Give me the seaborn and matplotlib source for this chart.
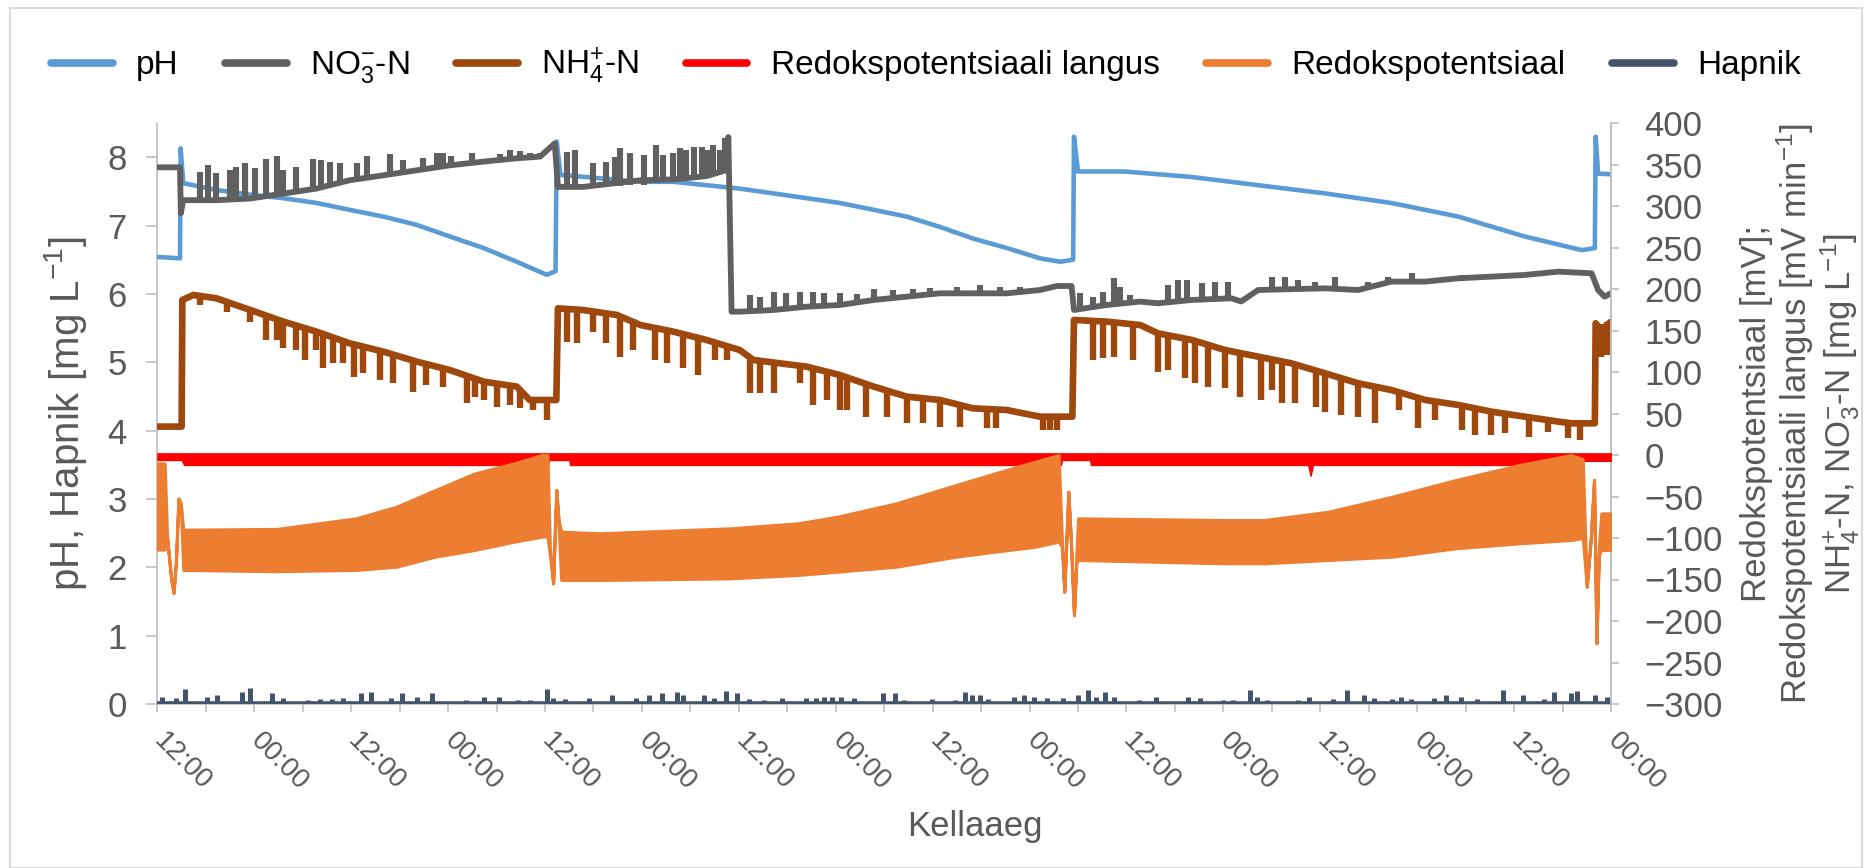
import numpy as np
import matplotlib
matplotlib.use("Agg")
import matplotlib.pyplot as plt
import seaborn as sns
from matplotlib.lines import Line2D
from matplotlib.patches import Rectangle
from matplotlib.transforms import ScaledTranslation

# ---------------- data (hours from the first 12:00) ----------------
xtick_labels = ["12:00", "00:00"] * 8

ph_t = [0, 2.8, 2.88, 3.2, 4.4, 7.3, 11.5, 15.6, 19.7, 23.8, 28.0, 32.1, 36.2, 40.4, 44.5, 47.8, 48.2, 49.3,
        49.45, 49.9, 52.0, 59.8, 63.9, 68.0, 72.1, 76.3, 80.4, 84.5, 88.7, 92.8, 96.9, 101.0, 105.2, 109.3,
        111.8, 113.4, 113.5, 114.0, 119.8, 128.1, 136.3, 144.6, 152.8, 161.1, 169.3, 176.4, 178.0, 178.1,
        178.4, 180.0]
ph_v = [6.54, 6.52, 8.13, 7.62, 7.59, 7.52, 7.45, 7.40, 7.33, 7.23, 7.13, 7.01, 6.84, 6.67, 6.47, 6.30, 6.28,
        6.33, 8.23, 7.74, 7.72, 7.64, 7.64, 7.59, 7.54, 7.47, 7.40, 7.33, 7.23, 7.13, 6.98, 6.81, 6.67, 6.52,
        6.47, 6.50, 8.30, 7.79, 7.79, 7.71, 7.59, 7.47, 7.33, 7.13, 6.84, 6.64, 6.67, 8.30, 7.76, 7.75]

no3_t = [0, 2.8, 2.9, 3.2, 7.3, 11.5, 15.6, 19.7, 23.8, 28.0, 32.1, 36.2, 40.4, 44.5, 47.4, 49.2, 49.6,
         52.7, 59.8, 63.9, 68.0, 70.5, 70.7, 71.1, 72.1, 76.3, 80.4, 84.5, 88.7, 92.8, 96.9, 101.0, 105.2,
         109.3, 111.4, 113.2, 113.5, 117.5, 121.7, 123.9, 128.1, 133.0, 134.2, 136.3, 144.6, 148.7, 152.8,
         157.0, 161.1, 165.2, 169.3, 173.5, 177.6, 178.4, 179.2, 180.0]
no3_v = [346.6, 346.6, 291, 307, 307, 309, 315, 321, 331, 337, 343, 349, 353.5, 357.5, 359.5, 375.5, 323,
         323, 331, 332, 336, 343.4, 383, 172.7, 172.7, 174.7, 178.7, 180.7, 186.8, 190.8, 194.8, 194.8, 194.8,
         198.8, 203.6, 203.6, 174.7, 180.7, 184.8, 182.8, 186.8, 188.8, 185, 198.8, 200.8, 198.8, 208.9,
         208.9, 212.9, 214.9, 216.9, 220.9, 218.9, 198.8, 190.8, 194.8]
# upward noise spikes of NO3-N: time, base, peak
no3_sp_t = [5.3, 6.3, 7.3, 9.0, 9.7, 10.8, 12.1, 13.5, 14.8, 15.6, 17.2, 19.3, 20.3, 21.4, 22.6, 24.7, 26.0,
            28.8, 30.4, 32.9, 34.6, 35.4, 36.4, 38.9, 40.4, 42.4, 43.7, 44.9, 46.1, 47.4,
            50.7, 51.7, 54.0, 55.6, 56.7, 57.3, 58.5, 60.2, 61.8, 62.6, 63.9, 64.7, 65.5, 66.4, 67.4, 68.2,
            68.8, 69.7, 70.3,
            73.4, 74.6, 76.3, 77.9, 79.6, 81.2, 82.5, 84.5, 86.6, 88.7, 91.1, 93.6, 95.7, 99.0, 101.9, 104.3,
            106.8, 114.2, 115.9, 117.1, 118.4, 119.2, 120.4, 125.2, 126.4, 127.5, 129.3, 131.0, 132.6, 138.0,
            139.6, 141.3, 143.3, 145.8, 149.9, 152.4, 155.3, 159.4, 161.5]
no3_sp_lo = [307, 307, 307, 308, 308, 309, 310, 312, 314, 315, 318, 321, 322, 325, 328, 332, 334, 338, 340,
             344, 347, 348, 349, 352, 353, 355, 357, 358, 358, 359,
             323, 323, 323, 324, 324, 324, 325, 325, 328, 329, 332, 333, 334, 335, 336, 337, 338, 340, 342,
             173, 173, 175, 176, 178, 179, 180, 181, 183, 187, 189, 191, 193, 195, 195, 195, 197, 176, 178,
             180, 181, 182, 183, 184, 185, 186, 187, 188, 188, 199, 199, 200, 200, 200, 200, 208, 209, 211,
             213]
no3_sp_hi = [341.4, 349.4, 339.4, 343.4, 347.4, 351.4, 345.4, 356.3, 360.3, 343.4, 347.4, 356.3, 355.5,
             353.4, 351.4, 352.2, 360.3, 362.7, 355.5, 357.5, 364.3, 363.5, 360.3, 364.3, 356.3, 362.7, 367.5,
             366.7, 364.3, 363.5,
             365.5, 367.5, 351.4, 353.4, 359.5, 369.5, 363.5, 361.5, 373.5, 361.5, 363.5, 369.5, 367.5, 371.5,
             371.5, 367.5, 373.5, 367.5, 381.6,
             192.8, 190.8, 196.8, 194.8, 196.8, 196.8, 194.8, 194.8, 194.0, 199.6, 198.8, 199.6, 200.8, 202.8,
             204.8, 202.8, 202.8, 194.8, 190.8, 196.8, 212.9, 202.8, 192.8, 204.8, 210.9, 210.9, 206.9, 208.9,
             208.9, 214.9, 214.9, 210.9, 208.9, 214.9, 208.9, 214.9, 218.9, 214.9, 216.9]

nh4_t = [0, 3.0, 3.09, 4.45, 7.3, 11.5, 15.6, 19.7, 23.8, 28.0, 32.1, 36.2, 40.4, 44.5, 46.1, 49.4, 49.6,
         52.7, 56.9, 59.8, 63.9, 68.0, 72.1, 73.8, 80.4, 84.5, 88.7, 92.8, 96.9, 101.0, 105.2, 107.2, 109.3,
         113.3, 113.5, 117.5, 121.7, 123.9, 128.1, 132.2, 136.3, 140.4, 144.6, 148.7, 152.8, 157.0, 161.1,
         165.2, 169.3, 173.5, 175.1, 178.0, 178.1, 178.8, 179.9]
nh4_v = [34.2, 34.2, 186.8, 192.8, 188.8, 174.7, 160.7, 148.6, 134.6, 124.5, 112.5, 102.4, 88.4, 82.4, 66.3,
         66.3, 176.7, 174.7, 168.7, 156.6, 148.6, 138.6, 126.5, 114.5, 106.4, 96.4, 82.4, 70.3, 66.3, 56.2,
         54.2, 50.2, 46.2, 46.2, 162.7, 160.7, 156.6, 146.6, 138.6, 126.5, 118.5, 110.5, 98.4, 86.4, 78.3,
         66.3, 60.3, 52.2, 46.2, 40.2, 38.2, 38.2, 158.7, 150.0, 160.0]
# downward noise spikes of NH4+-N: time, bottom, top
nh4_sp_t = [5.3, 8.6, 11.5, 13.5, 14.8, 15.6, 17.2, 18.3, 19.7, 20.5, 21.8, 23.0, 24.3, 25.5, 27.6, 29.2,
            31.7, 33.3, 35.4, 38.3, 39.3, 40.4, 42.0, 43.7, 44.9, 46.5, 48.2,
            50.7, 51.9, 54.0, 55.6, 57.3, 58.9, 61.6, 63.1, 65.1, 67.0, 69.0, 70.5, 73.4, 74.6, 76.3, 79.6,
            81.2, 82.9, 84.5, 85.4, 87.8, 90.3, 92.8, 94.8, 96.9, 99.4, 102.7, 103.9, 109.7, 110.5, 111.4,
            115.9, 117.1, 118.4, 120.8, 123.9, 125.2, 127.2, 128.5, 130.1, 132.2, 134.1, 136.7, 138.0, 139.2,
            140.9, 143.5, 144.6, 146.6, 148.7, 150.8, 153.7, 156.1, 158.2, 161.5, 163.1, 165.2, 166.9, 169.8,
            172.2, 174.7, 176.2, 178.8, 179.5]
nh4_sp_lo = [180.7, 172.7, 160.7, 138.6, 138.6, 128.5, 126.5, 114.5, 126.5, 104.4, 110.5, 110.5, 94.4, 98.4,
             90.4, 86.4, 76.3, 84.3, 82.4, 62.3, 70.3, 66.3, 58.2, 60.3, 56.2, 54.2, 42.2,
             136.6, 134.6, 148.6, 134.6, 118.5, 126.5, 114.5, 110.5, 104.4, 96.4, 114.5, 114.5, 74.3, 74.3,
             74.3, 86.4, 60.3, 66.3, 54.2, 54.2, 46.2, 46.2, 38.2, 38.2, 34.2, 34.2, 32.1, 32.1, 30.1, 30.1,
             30.1, 114.5, 116.5, 118.5, 114.5, 100.4, 102.4, 92.4, 86.4, 82.4, 80.4, 70.3, 66.3, 78.3, 62.3,
             62.3, 58.2, 52.2, 48.2, 46.2, 38.2, 54.2, 32.1, 42.2, 30.1, 24.1, 24.1, 26.1, 22.1, 28.1, 20.1,
             18.1, 118.0, 120.0]
nh4_sp_hi = [192, 185, 175, 167, 163, 161, 156, 152, 149, 146, 142, 138, 134, 131, 125, 121, 114, 110, 105,
             95, 91, 88, 86, 84, 80, 66, 66,
             176, 175, 173, 170, 167, 164, 154, 150, 146, 141, 136, 131, 118, 114, 112, 108, 104, 100, 96, 94,
             85, 78, 70, 68, 66, 60, 56, 55, 46, 46, 46,
             161, 160, 159, 157, 147, 144, 140, 138, 132, 126, 122, 118, 115, 112, 109, 101, 98, 92, 86, 82,
             76, 68, 64, 60, 56, 52, 50, 46, 42, 40, 38, 158, 160]

redox_t = [0, 0.9, 1.2, 1.7, 2.0, 2.3, 2.6, 2.9, 3.2, 14.8, 24.6, 29.6, 34.4, 39.3, 44.2, 47.6, 48.3, 48.6,
           49.0, 49.2, 49.4, 49.7, 50.0, 54.8, 71.0, 79.3, 84.2, 91.5, 98.9, 103.7, 108.7, 111.6, 112.0,
           112.3, 112.8, 113.1, 113.5, 113.8, 114.0, 132.0, 137.1, 145.0, 152.9, 160.8, 168.7, 175.1, 176.5,
           177.0, 177.5, 177.9, 178.2, 178.5, 178.8, 180.0]
redox_lo = [-114, -114, -100, -150, -166, -130, -55, -62, -138.5, -140, -138.5, -134.6, -122.5, -114.4,
            -104.4, -98.4, -98, -120, -154.6, -100, -42, -90, -150.6, -150.6, -148.6, -144.6, -140.6, -134.6,
            -122.5, -116.5, -110.5, -104.4, -110, -164.6, -44.2, -100, -192.8, -130, -126.5, -130.5, -130.5,
            -126.5, -122.5, -112.4, -106.4, -102.4, -100, -158.6, -100, -30, -226.9, -120, -114.4, -114.4]
redox_hi = [-10, -10, -98, -148, -166, -125, -52, -58, -90, -89, -76.3, -62.3, -42.2, -22.1, -10, 0, 0, -110,
            -154.6, -95, -42, -80, -92.4, -94.3, -88.3, -82.3, -74.3, -58.2, -36.1, -22.1, -8, 0, -100,
            -164.6, -44.2, -100, -192.8, -120, -76.3, -78.3, -78.3, -68.3, -50.2, -30.1, -12, 0, -5, -158.6,
            -100, -30, -226.9, -110, -70.3, -70.3]

drop_t = [0, 3.0, 3.3, 48.4, 48.5, 51.0, 51.1, 111.9, 112.0, 115.5, 115.6, 142.5, 142.8, 143.1, 176.3, 176.4,
          180.0]
drop_lo = [-6, -6, -12, -12, -6, -6, -12, -12, -6, -6, -12, -12, -25, -12, -12, -7, -7]
drop_hi = [2, 2, 2, 2, 2, 2, 2, 2, 2, 2, 2, 2, 2, 2, 2, 2, 2]

o2_base_t = [0, 180]
o2_base_v = [0.02, 0.02]
o2_sp_t = [0.55, 2.3, 3.47, 6.1, 7.4, 10.5, 11.5, 14.2, 15.6, 18.7, 20.1, 21.6, 23.0, 25.2, 26.5, 28.9, 30.3,
           32.1, 34.0, 38.2, 40.4, 42.3, 44.7, 46.1, 48.2, 49.0, 50.5, 53.4, 56.3, 59.3, 60.9, 62.5, 64.4,
           65.1, 67.7, 68.9, 70.4, 71.8, 73.3, 75.1, 77.4, 80.3, 81.5, 82.6, 83.5, 84.7, 86.3, 89.8, 91.3,
           92.4, 95.9, 98.8, 100.0, 100.9, 101.9, 102.9, 106.1, 107.3, 108.6, 110.2, 112.1, 114.0, 115.2,
           116.2, 117.4, 118.4, 121.5, 123.7, 127.6, 129.1, 132.0, 133.2, 135.3, 136.2, 137.4, 141.2, 142.6,
           145.6, 147.3, 149.4, 150.7, 152.9, 154.0, 155.2, 158.1, 159.6, 161.4, 163.4, 166.6, 169.1, 171.7,
           173.0, 175.1, 175.8, 178.0, 179.5]
o2_sp_v = [0.107, 0.093, 0.215, 0.107, 0.13, 0.18, 0.23, 0.156, 0.093, 0.059, 0.068, 0.068, 0.083, 0.165,
           0.18, 0.093, 0.156, 0.107, 0.156, 0.059, 0.107, 0.107, 0.059, 0.059, 0.215, 0.093, 0.068, 0.083,
           0.13, 0.093, 0.13, 0.156, 0.18, 0.13, 0.13, 0.083, 0.19, 0.156, 0.068, 0.059, 0.093, 0.083, 0.093,
           0.107, 0.107, 0.107, 0.093, 0.156, 0.156, 0.059, 0.068, 0.059, 0.18, 0.13, 0.13, 0.068, 0.107,
           0.13, 0.107, 0.083, 0.083, 0.13, 0.2, 0.107, 0.18, 0.107, 0.059, 0.107, 0.107, 0.083, 0.059, 0.059,
           0.2, 0.107, 0.059, 0.059, 0.107, 0.068, 0.2, 0.13, 0.093, 0.068, 0.107, 0.068, 0.093, 0.13, 0.107,
           0.068, 0.2, 0.13, 0.068, 0.18, 0.156, 0.19, 0.13, 0.107]

# ---------------- style ----------------
C_PH, C_NO3, C_NH4 = "#5B9BD5", "#606060", "#9E480E"
C_DROP, C_REDOX, C_O2 = "#FF0000", "#ED7D31", "#44546A"
C_TXT, C_AX = "#595959", "#BFBFBF"

sns.set_theme(style="white")
plt.rcParams["font.family"] = ["Liberation Sans", "DejaVu Sans"]
plt.rcParams["mathtext.fontset"] = "custom"
plt.rcParams["mathtext.rm"] = "Liberation Sans"
plt.rcParams["mathtext.it"] = "Liberation Sans:italic"
plt.rcParams["mathtext.bf"] = "Liberation Sans:bold"

W, H = 1870, 868
fig = plt.figure(figsize=(W / 100, H / 100), dpi=100)
fig.patch.set_facecolor("white")
fig.patches.append(Rectangle((10 / W, 0), 1852 / W, 1 - 8 / H, transform=fig.transFigure,
                             fill=False, edgecolor="#D9D9D9", linewidth=1.5))

L, R, T, B = 157.4, 1611, 123, 704
ax = fig.add_axes([L / W, (H - B) / H, (R - L) / W, (B - T) / H])
ax2 = ax.twinx()
ax.set_facecolor("none")

# primary axis: pH and oxygen
sns.lineplot(x=ph_t, y=ph_v, ax=ax, color=C_PH, lw=3.3, sort=False, estimator=None, zorder=3)
sns.lineplot(x=o2_base_t, y=o2_base_v, ax=ax, color=C_O2, lw=3.3, sort=False, estimator=None, zorder=3)
ax.vlines(o2_sp_t, 0.02, o2_sp_v, color=C_O2, lw=3.6, zorder=3)

# secondary axis
sns.lineplot(x=no3_t, y=no3_v, ax=ax2, color=C_NO3, lw=4.2, sort=False, estimator=None, zorder=2)
ax2.vlines(no3_sp_t, no3_sp_lo, no3_sp_hi, color=C_NO3, lw=4.4, zorder=2)
sns.lineplot(x=nh4_t, y=nh4_v, ax=ax2, color=C_NH4, lw=4.8, sort=False, estimator=None, zorder=2)
ax2.vlines(nh4_sp_t, nh4_sp_lo, nh4_sp_hi, color=C_NH4, lw=4.6, zorder=2)
ax2.fill_between(drop_t, drop_lo, drop_hi, color=C_DROP, lw=1.0, edgecolor=C_DROP, zorder=3)
ax2.fill_between(redox_t, redox_lo, redox_hi, color=C_REDOX, lw=2.2, edgecolor=C_REDOX, zorder=4)

# axes
ax.set_xlim(0, 180)
ax.set_ylim(0, 8.5)
ax2.set_ylim(-300, 400)
ax.set_yticks(np.arange(0, 9, 1))
ax2.set_yticks(np.arange(-300, 401, 50))
ticks = np.arange(0, 181, 6)
ax.set_xticks(ticks)
ax.set_xticklabels([xtick_labels[i // 2] if i % 2 == 0 else "" for i in range(len(ticks))],
                   rotation=-45, ha="left", va="top", rotation_mode="anchor")

for a in (ax, ax2):
    for s in a.spines.values():
        s.set_color(C_AX)
        s.set_linewidth(1.2)
    a.spines["top"].set_visible(False)
    a.grid(False)
ax2.spines["left"].set_visible(False)
ax2.spines["bottom"].set_visible(False)

ax.tick_params(axis="y", which="both", left=True, length=8, width=1.2, color=C_AX, labelcolor=C_TXT,
               labelsize=25, pad=14, direction="out")
ax.tick_params(axis="x", bottom=True, length=6, width=1.2, color=C_AX, labelcolor=C_TXT,
               labelsize=20, pad=11, direction="out")
ax2.tick_params(axis="y", right=True, length=6, width=1.2, color=C_AX, labelcolor=C_TXT,
                labelsize=25, pad=18, direction="out")
shift = ScaledTranslation(10 / 100, 0, fig.dpi_scale_trans)
for lab in ax.get_xticklabels():
    lab.set_transform(lab.get_transform() + shift)

ax.set_ylabel(r"pH, Hapnik [mg L$^{-1}$]", fontsize=29, color=C_TXT)
ax.yaxis.set_label_coords(-0.047, 0.5)
ax2.set_ylabel("Redokspotentsiaal [mV];\nRedokspotentsiaali langus [mV min$^{-1}$]\n"
               r"NH$_4^{+}$-N, NO$_3^{-}$-N [mg L$^{-1}$]",
               fontsize=25, color=C_TXT, rotation=90, va="center", ha="center",
               multialignment="center", linespacing=1.05)
ax2.yaxis.set_label_coords(1.1307, 0.5)
ax.set_xlabel("Kellaaeg", fontsize=25, color=C_TXT, va="center")
ax.xaxis.set_label_coords(0.5625, -0.21)

handles = [Line2D([], [], color=c, lw=5.5) for c in (C_PH, C_NO3, C_NH4, C_DROP, C_REDOX, C_O2)]
labels = ["pH", r"NO$_3^{-}$-N", r"NH$_4^{+}$-N", "Redokspotentsiaali langus", "Redokspotentsiaal", "Hapnik"]
leg = fig.legend(handles, labels, loc="center", bbox_to_anchor=(926 / W, 1 - 66 / H), ncol=6,
                 frameon=False, fontsize=24, handlelength=1.85, handletextpad=0.7, columnspacing=1.4)
for t in leg.get_texts():
    t.set_color("black")

fig.savefig("out.png", dpi=100, facecolor="white")
